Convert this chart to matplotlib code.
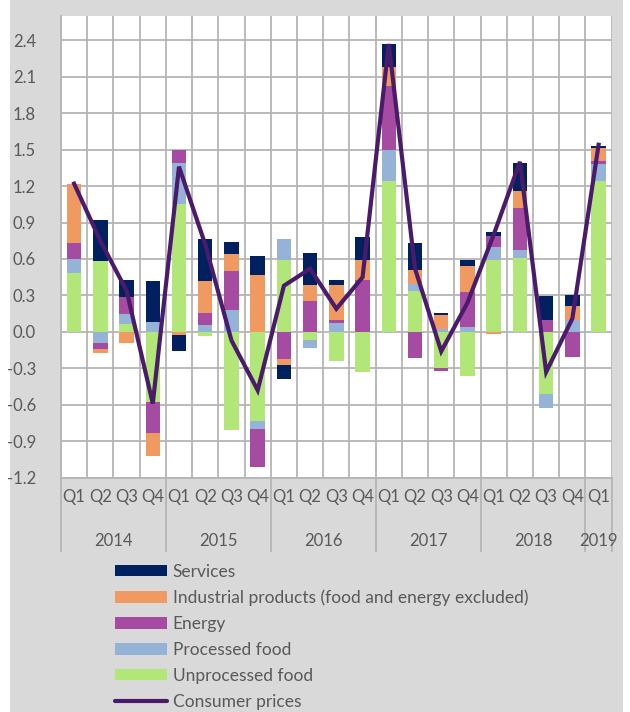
import numpy as np
import matplotlib
matplotlib.use("Agg")
import matplotlib.pyplot as plt
from matplotlib.patches import Rectangle
from matplotlib.lines import Line2D

# ---------------- data ----------------
years = ["2014", "2015", "2016", "2017", "2018", "2019"]
quarters = ["Q1", "Q2", "Q3", "Q4"] * 5 + ["Q1"]

unprocessed = [0.485, 0.584, 0.068, -0.575, 1.05, -0.036, -0.808, -0.73,
               0.589, -0.068, -0.238, -0.329, 1.245, 0.334, -0.301, -0.364,
               0.589, 0.611, -0.512, 0.0, 1.245]
processed = [0.115, -0.09, 0.082, 0.08, 0.34, 0.055, 0.178, -0.07,
             0.178, -0.061, 0.074, 0.0, 0.256, 0.063, 0.02, 0.041,
             0.11, 0.06, -0.113, 0.096, 0.138]
energy = [0.134, -0.052, 0.135, -0.255, 0.107, 0.101, 0.323, -0.312,
          -0.219, 0.252, 0.022, 0.425, 0.52, -0.211, -0.017, 0.288,
          0.087, 0.351, 0.101, -0.205, 0.02]
industrial = [0.481, -0.031, -0.088, -0.189, -0.025, 0.26, 0.143, 0.468,
              -0.052, 0.132, 0.288, 0.17, 0.162, 0.11, 0.117, 0.211,
              -0.02, 0.137, 0.0, 0.115, 0.112]
services = [0.005, 0.334, 0.14, 0.336, -0.13, 0.346, 0.096, 0.157,
            -0.118, 0.265, 0.046, 0.186, 0.187, 0.224, 0.022, 0.055,
            0.036, 0.233, 0.195, 0.096, 0.017]
consumer = [1.22, 0.75, 0.34, -0.59, 1.36, 0.72, -0.07, -0.48,
            0.38, 0.52, 0.19, 0.45, 2.37, 0.52, -0.16, 0.24,
            0.80, 1.40, -0.33, 0.11, 1.54]

series = [("Unprocessed food", unprocessed, "#B3E679"),
          ("Processed food", processed, "#95B3D7"),
          ("Energy", energy, "#A64BA2"),
          ("Industrial products (food and energy excluded)", industrial, "#F09A62"),
          ("Services", services, "#002060")]

plt.rcParams['font.family'] = ['Lato', 'DejaVu Sans']
txt = "#595959"
grid = "#B5B5B5"
fs = 12

fig = plt.figure(figsize=(6.3, 7.12), dpi=100, facecolor="white")
fig.add_artist(Rectangle((10 / 630, 0), 613 / 630, 1, transform=fig.transFigure,
                         facecolor="#D9D9D9", edgecolor="none", zorder=-10))
ax = fig.add_axes([61 / 630, 234.3 / 712, 550.7 / 630, 461.7 / 712])
ax.set_facecolor("white")

x = np.arange(len(consumer))
pos = np.zeros(len(x))
neg = np.zeros(len(x))
handles = {}
for name, vals, col in series:
    v = np.array(vals)
    bottom = np.where(v >= 0, pos, neg)
    b = ax.bar(x, v, 0.55, bottom=bottom, color=col, zorder=3)
    handles[name] = b
    pos = pos + np.where(v >= 0, v, 0)
    neg = neg + np.where(v < 0, v, 0)

ln, = ax.plot(x, consumer, color="#4A1B6B", lw=3.0, zorder=4, solid_joinstyle="miter")

ax.set_xlim(-0.5, len(x) - 0.5)
ax.set_ylim(-1.2, 2.6)
ax.set_yticks(np.arange(-1.2, 2.41, 0.3))
ax.set_yticklabels(["%.1f" % t for t in np.arange(-1.2, 2.41, 0.3)])
ax.set_xticks([])
ax.set_xticks(np.arange(-0.5, len(x), 1), minor=True)
ax.tick_params(axis="x", which="both", length=0)
ax.tick_params(axis="y", length=0, pad=18, labelsize=fs, labelcolor=txt)
ax.grid(True, which="major", axis="y", color=grid, lw=1.3, zorder=0)
ax.grid(True, which="minor", axis="x", color=grid, lw=1.3, zorder=0)
for s in ["top", "right"]:
    ax.spines[s].set_visible(False)
for s in ["left", "bottom"]:
    ax.spines[s].set_color(grid)
    ax.spines[s].set_linewidth(1.3)

# category labels: quarters and years
for i, q in enumerate(quarters):
    ax.annotate(q, (i, 0), xycoords=("data", "axes fraction"), xytext=(0, -19),
                textcoords="offset pixels", ha="center", va="center",
                fontsize=fs, color=txt)
for k, yr in enumerate(years):
    start = 4 * k
    end = min(4 * k + 3, len(x) - 1)
    ax.annotate(yr, ((start + end) / 2, 0), xycoords=("data", "axes fraction"),
                xytext=(0, -63), textcoords="offset pixels", ha="center",
                va="center", fontsize=fs, color=txt)
for b in [-0.5, 3.5, 7.5, 11.5, 15.5, 19.5, 20.5]:
    ax.axvline(b, ymin=-73 / 461.7, ymax=0, clip_on=False, color=grid, lw=1.3)

# legend below the chart
order = ["Services", "Industrial products (food and energy excluded)", "Energy",
         "Processed food", "Unprocessed food"]
leg_h = [handles[n] for n in order] + [Line2D([], [], color="#4A1B6B", lw=3.0,
                                              solid_capstyle="round")]
leg_l = order + ["Consumer prices"]
fig.legend(leg_h, leg_l, loc="upper left", bbox_to_anchor=(106 / 630, 1 - 555 / 712),
           frameon=False, fontsize=12.5, handlelength=3.0, handleheight=0.63,
           handletextpad=0.35, labelspacing=0.57, borderpad=0, labelcolor=txt)

fig.savefig("out.png", dpi=100, facecolor=fig.get_facecolor())
